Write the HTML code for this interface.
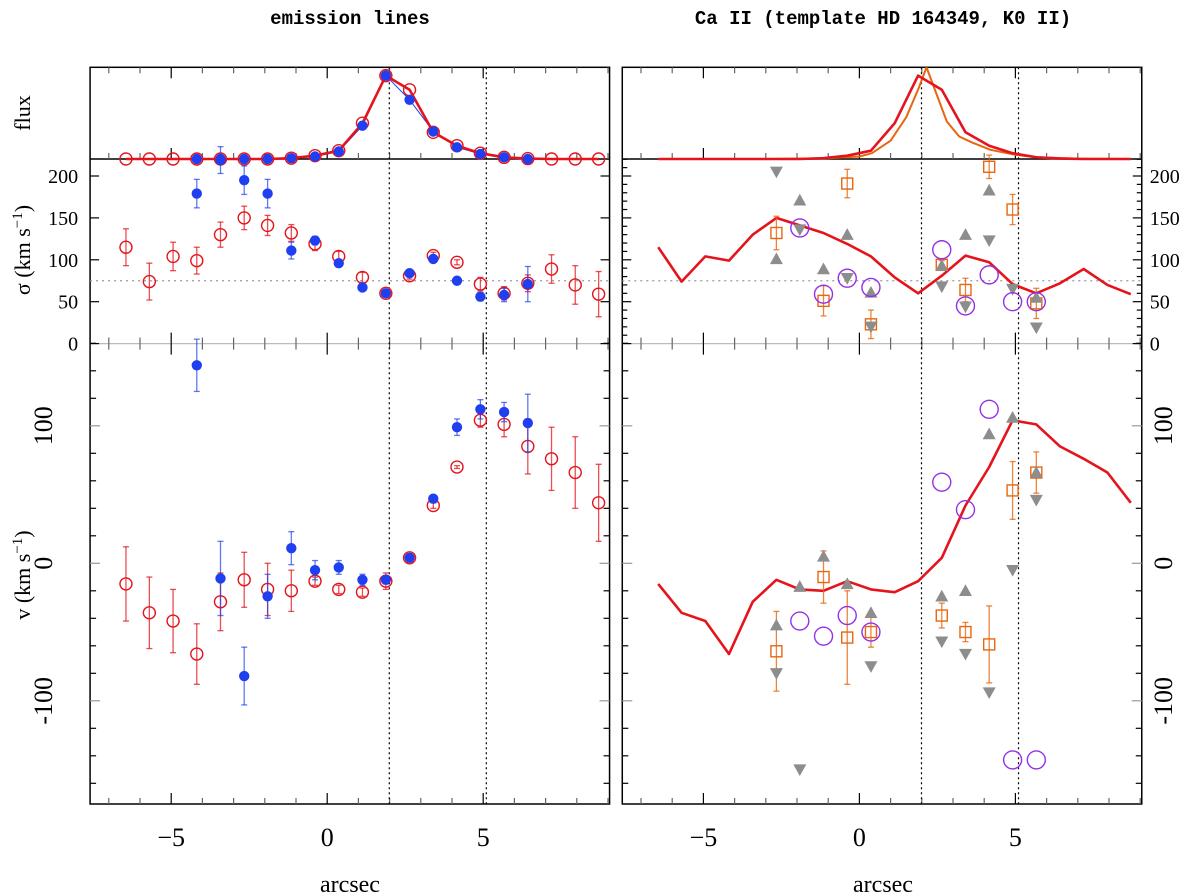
<!DOCTYPE html>
<html><head><meta charset="utf-8"><style>
html,body{margin:0;padding:0;background:#fff;}
svg{display:block;font-family:"Liberation Serif",serif;}
</style></head><body>
<svg id="chart" width="1200" height="896" viewBox="0 0 1200 896" xmlns="http://www.w3.org/2000/svg">
<text x="350" y="24" text-anchor="middle" font-size="19" font-weight="bold" font-family="Liberation Mono, monospace">emission lines</text>
<text x="883" y="24" text-anchor="middle" font-size="19" font-weight="bold" font-family="Liberation Mono, monospace">Ca II (template HD 164349, K0 II)</text>
<text transform="translate(30,113) rotate(-90)" text-anchor="middle" font-size="22">flux</text>
<text transform="translate(30,250) rotate(-90)" text-anchor="middle" font-size="22">σ (km s<tspan dy="-8" font-size="15">−1</tspan><tspan dy="8">)</tspan></text>
<text transform="translate(30,575) rotate(-90)" text-anchor="middle" font-size="22">v (km s<tspan dy="-8" font-size="15">−1</tspan><tspan dy="8">)</tspan></text>
<text x="350" y="892" text-anchor="middle" font-size="24">arcsec</text>
<text x="883" y="892" text-anchor="middle" font-size="24">arcsec</text>
<g id="g"></g>
</svg>
<script>
const xs=[-6.45,-5.70,-4.94,-4.18,-3.42,-2.66,-1.91,-1.15,-0.39,0.37,1.13,1.88,2.64,3.40,4.16,4.91,5.67,6.43,7.19,7.95,8.70];
const redFlux=[0,0,0,0,0,0,0,0.01,0.04,0.10,0.43,1.0,0.83,0.32,0.16,0.07,0.02,0.005,0,0,0];
const blueIdx=[3,4,5,6,7,8,9,10,11,12,13,14,15,16,17];
const blueFlux=[0,0,0,0,0.01,0.03,0.09,0.40,1.0,0.71,0.33,0.14,0.06,0.02,0];
const redSig=[115,74,104,99,130,150,141,132,119,104,79,60,81,105,97,71,60,72,89,70,59];
const redSigErr=[22,22,17,16,15,14,12,10,8,6,6,3,4,4,3,8,8,10,17,23,27];
const blueSig=[179,219,195,179,111,123,96,67,60,84,101,75,56,58,71];
const blueSigErr=[17,16,17,17,10,5,3,3,3,3,3,3,5,8,21];
const redV=[-15,-36,-42,-66,-28,-12,-19,-20,-13,-19,-21,-13,4,42,70,104,101,85,76,66,44];
const redVErr=[27,26,23,22,21,20,19,15,3,3,3,6,3,2,1,5,9,20,23,26,28];
const blueV=[144,-11,-82,-24,11,-5,-3,-12,-12,4,47,99,112,110,102];
const blueVErr=[19,27,21,16,12,7,5,4,3,2,2,6,7,7,21];
const tmplX=[-6.45,-3,-1,0,0.4,1.0,1.5,1.9,2.15,2.4,2.8,3.2,3.6,4.2,5.0,5.7,7,8.7];
const tmplFlux=[0,0,0.01,0.03,0.07,0.22,0.5,0.85,1.1,0.85,0.45,0.27,0.2,0.11,0.05,0.02,0.005,0];
const sqSigIdx=[5,7,8,9,12,13,14,15,16];
const sqSig=[132,51,191,23,94,64,211,160,48];
const sqSigErr=[20,18,17,17,5,14,14,18,18];
const upSigIdx=[5,6,7,8,9,12,13,14,16];
const upSig=[101,171,89,130,61,93,130,183,55];
const downSigIdx=[5,6,8,9,12,13,14,15,16];
const downSig=[205,136,78,20,68,44,123,65,19];
const purSigIdx=[6,7,8,9,12,13,14,15,16];
const purSig=[138,59,78,67,112,45,82,50,50];
const sqVIdx=[5,7,8,9,12,13,14,15,16];
const sqV=[-64,-10,-54,-50,-38,-50,-59,53,66];
const sqVErr=[29,19,34,11,9,7,28,21,15];
const upVIdx=[5,6,7,8,9,12,13,14,15,16];
const upV=[-45,-17,5,-15,-36,-24,-20,94,106,66];
const downVIdx=[5,6,9,12,13,14,15,16];
const downV=[-80,-150,-75,-57,-66,-94,-5,46];
const purVIdx=[6,7,8,9,12,13,14,15,16];
const purV=[-42,-53,-38,-50,59,39,112,-143,-143];
const xTicks=[-5,0,5];
const sigTicks=[0,50,100,150,200];
const vTicks=[-100,0,100];

const NS="http://www.w3.org/2000/svg";
const G=document.getElementById('g');
const SC=31.2;
const X0L=327.2, X0R=859.4;
const XMIN=-7.6, XMAX=9.05;
const FT=67.3, FB=159, SB=343.6, VB=804;
function yF(f){return FB-f*(FB-FT)/1.1;}
function yS(s){return SB-s*0.838;}
function yV(v){return 563.3-v*1.375;}
function mk(tag,attrs,parent){const e=document.createElementNS(NS,tag);for(const k in attrs)e.setAttribute(k,attrs[k]);(parent||G).appendChild(e);return e;}
const RED="#e5141c",BLUE="#1f3ff0",ORANGE="#e8660f",GRAY="#8d8d8d",PURPLE="#9430e6";

function panel(side){
  const x0=side==='L'?X0L:X0R;
  const xf=u=>x0+u*SC;
  const L=xf(XMIN),R=xf(XMAX);
  const g=mk('g',{});
  
  
  // frame
  const fr=mk('rect',{x:L,y:FT,width:R-L,height:VB-FT,fill:'none',stroke:'#000','stroke-width':1.5},g);
  
  
  mk('line',{x1:L,x2:R,y1:FB,y2:FB,stroke:'#000','stroke-width':1.5},g);
  mk('line',{x1:L,x2:R,y1:SB,y2:SB,stroke:'#bbb','stroke-width':1.2},g);
  // x ticks
  for(let u=-7;u<=9;u++){
    const x=xf(u),maj=(u%5===0);
    const l=maj?11:6;
    [[FT,1],[FB,-1],[SB,-1],[SB,1],[VB,-1]].forEach(([y,d])=>{
      mk('line',{x1:x,x2:x,y1:y,y2:y+d*l,stroke:maj?'#000':'#666','stroke-width':1.2},g);
    });
  }
  xTicks.forEach(t=>{
    const tx=mk('text',{x:xf(t),y:846,'text-anchor':'middle','font-size':26},g);
    tx.textContent=t<0?'−'+Math.abs(t):String(t);
    
    
  });
  // sigma ticks
  for(let s=0;s<=220;s+=10){
    const maj=s%50===0;const y=yS(s);
    if(!maj && side==='L') continue;
    const l=maj?9:5;
    mk('line',{x1:L,x2:L+l,y1:y,y2:y,stroke:'#000','stroke-width':1.2},g);
    mk('line',{x1:R,x2:R-l,y1:y,y2:y,stroke:'#000','stroke-width':1.2},g);
  }
  for(let v=-160;v<=160;v+=20){
    const maj=v%100===0;const y=yV(v);
    const l=maj?10:6;
    mk('line',{x1:L,x2:L+l,y1:y,y2:y,stroke:maj?'#999':'#000','stroke-width':1.2},g);
    mk('line',{x1:R,x2:R-l,y1:y,y2:y,stroke:maj?'#999':'#000','stroke-width':1.2},g);
  }
  sigTicks.forEach(t=>{
    const tx=mk('text',side==='L'?{x:L-12,y:yS(t)+7,'text-anchor':'end','font-size':20}:{x:R+8,y:yS(t)+7,'text-anchor':'start','font-size':20},g);
    tx.textContent=String(t);
    
    
  });
  vTicks.forEach(t=>{
    const cx=side==='L'?L-38:R+30;
    const tx=mk('text',{transform:`translate(${cx},${yV(t)}) rotate(-90)`,'text-anchor':'middle','font-size':26},g);
    tx.textContent=t<0?'-'+Math.abs(t):String(t);
    
    
  });
  // reference lines
  [1.99,5.1].forEach(u=>{
    const l=mk('line',{x1:xf(u),x2:xf(u),y1:FT,y2:VB,stroke:'#000','stroke-width':1.2,'stroke-dasharray':'2,3'},g);
    
    
  });
  const h=mk('line',{x1:L,x2:R,y1:yS(75),y2:yS(75),stroke:'#999','stroke-width':1.2,'stroke-dasharray':'2,4'},g);
  
  
  return {xf,g};
}
function poly(g,pts,color,w,name){
  const p=mk('polyline',{points:pts.map(p=>p[0].toFixed(1)+','+p[1].toFixed(1)).join(' '),fill:'none',stroke:color,'stroke-width':w,'stroke-linejoin':'round'},g);
  
  
}
function err(g,x,y1,y2,color,op){
  mk('line',{x1:x,x2:x,y1:y1,y2:y2,stroke:color,'stroke-width':1.3,opacity:op},g);
  mk('line',{x1:x-3,x2:x+3,y1:y1,y2:y1,stroke:color,'stroke-width':1.3,opacity:op},g);
  mk('line',{x1:x-3,x2:x+3,y1:y2,y2:y2,stroke:color,'stroke-width':1.3,opacity:op},g);
}
function circ(g,x,y,r,color,fill,name){
  const c=mk('circle',{cx:x,cy:y,r:r,fill:fill,stroke:color,'stroke-width':1.4},g);
  
  
}
function sq(g,x,y,name){
  const c=mk('rect',{x:x-5.5,y:y-5.5,width:11,height:11,fill:'none',stroke:ORANGE,'stroke-width':1.4},g);
  
  
}
function tri(g,x,y,up,name){
  const s=6.5;
  const pts=up?`${x},${y-s} ${x-s},${y+s*0.8} ${x+s},${y+s*0.8}`:`${x},${y+s} ${x-s},${y-s*0.8} ${x+s},${y-s*0.8}`;
  const c=mk('polygon',{points:pts,fill:GRAY},g);
  
  
}

// LEFT
(function(){
  const {xf,g}=panel('L');
  const cl=mk('clipPath',{id:'clipL'});
  mk('rect',{x:xf(XMIN),y:FT,width:(XMAX-XMIN)*SC,height:VB-FT},cl);
  const d=mk('g',{'clip-path':'url(#clipL)'},g);
  poly(d,blueIdx.map((i,k)=>[xf(xs[i]),yF(blueFlux[k])]),BLUE,1,'blue-flux-line');
  poly(d,xs.map((x,i)=>[xf(x),yF(redFlux[i])]),RED,2.6,'red-flux-line');
  xs.forEach((x,i)=>{
    circ(d,xf(x),yF(redFlux[i]),6,RED,'none','red-flux-point');
    err(d,xf(x),yS(redSig[i]+redSigErr[i]),yS(redSig[i]-redSigErr[i]),RED,0.75);
    circ(d,xf(x),yS(redSig[i]),6,RED,'none','red-sigma-point');
    err(d,xf(x),yV(redV[i]+redVErr[i]),yV(redV[i]-redVErr[i]),RED,0.75);
    circ(d,xf(x),yV(redV[i]),6,RED,'none','red-velocity-point');
  });
  blueIdx.forEach((i,k)=>{
    const x=xf(xs[i]);
    circ(d,x,yF(blueFlux[k]),4.5,BLUE,BLUE,'blue-flux-point');
    err(d,x,yS(blueSig[k]+blueSigErr[k]),yS(blueSig[k]-blueSigErr[k]),BLUE,0.7);
    circ(d,x,yS(blueSig[k]),4.5,BLUE,BLUE,'blue-sigma-point');
    err(d,x,yV(blueV[k]+blueVErr[k]),yV(blueV[k]-blueVErr[k]),BLUE,0.7);
    circ(d,x,yV(blueV[k]),4.5,BLUE,BLUE,'blue-velocity-point');
  });
})();

// RIGHT
(function(){
  const {xf,g}=panel('R');
  const cl=mk('clipPath',{id:'clipR'});
  mk('rect',{x:xf(XMIN),y:FT,width:(XMAX-XMIN)*SC,height:VB-FT},cl);
  const d=mk('g',{'clip-path':'url(#clipR)'},g);
  poly(d,tmplX.map((x,i)=>[xf(x),yF(tmplFlux[i])]),ORANGE,2,'template-flux-line');
  poly(d,xs.map((x,i)=>[xf(x),yF(redFlux[i])]),RED,2.6,'galaxy-flux-line');
  poly(d,xs.map((x,i)=>[xf(x),yS(redSig[i])]),RED,2.6,'gas-sigma-line');
  poly(d,xs.map((x,i)=>[xf(x),yV(redV[i])]),RED,2.6,'gas-velocity-line');
  sqSigIdx.forEach((i,k)=>{const x=xf(xs[i]);err(d,x,yS(sqSig[k]+sqSigErr[k]),yS(sqSig[k]-sqSigErr[k]),ORANGE,0.8);sq(d,x,yS(sqSig[k]),'star-sigma-square');});
  upSigIdx.forEach((i,k)=>tri(d,xf(xs[i]),yS(upSig[k]),true,'upper-sigma-triangle'));
  downSigIdx.forEach((i,k)=>tri(d,xf(xs[i]),yS(downSig[k]),false,'lower-sigma-triangle'));
  purSigIdx.forEach((i,k)=>circ(d,xf(xs[i]),yS(purSig[k]),9,PURPLE,'none','purple-sigma-circle'));
  sqVIdx.forEach((i,k)=>{const x=xf(xs[i]);err(d,x,yV(sqV[k]+sqVErr[k]),yV(sqV[k]-sqVErr[k]),ORANGE,0.8);sq(d,x,yV(sqV[k]),'star-velocity-square');});
  upVIdx.forEach((i,k)=>tri(d,xf(xs[i]),yV(upV[k]),true,'upper-velocity-triangle'));
  downVIdx.forEach((i,k)=>tri(d,xf(xs[i]),yV(downV[k]),false,'lower-velocity-triangle'));
  purVIdx.forEach((i,k)=>circ(d,xf(xs[i]),yV(purV[k]),9,PURPLE,'none','purple-velocity-circle'));
})();
</script>
</body></html>
